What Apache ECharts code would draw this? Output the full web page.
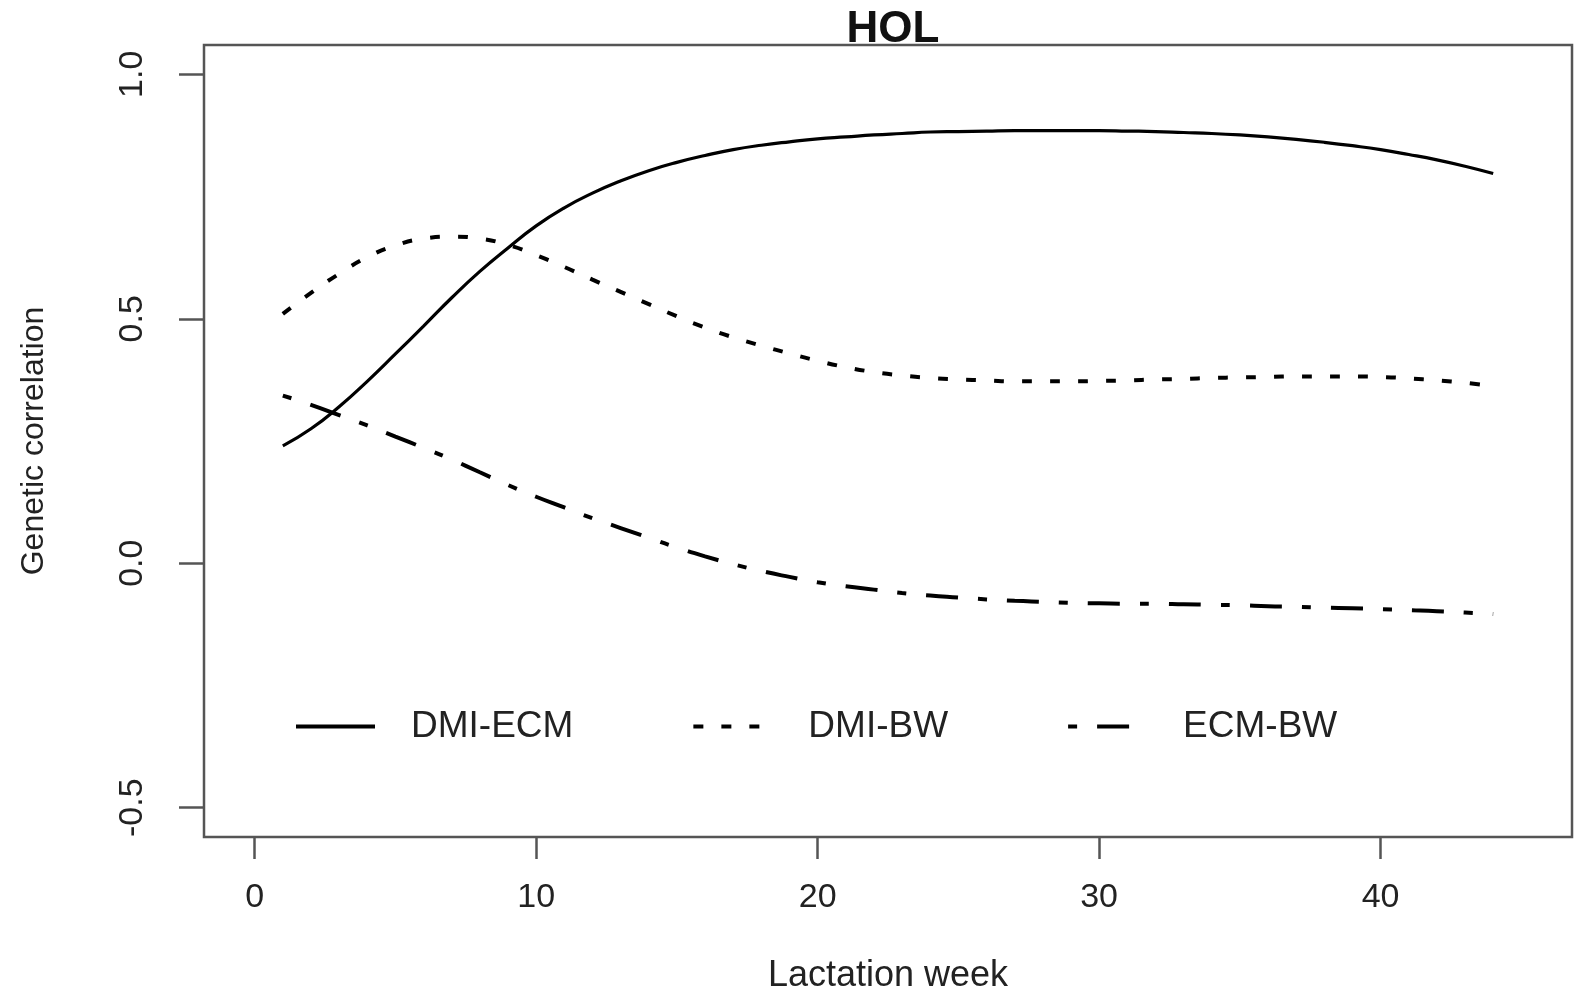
<!DOCTYPE html>
<html lang="en">
  <head>
    <meta charset="UTF-8" />
    <title>HOL</title>
    <style>
      html, body { margin: 0; padding: 0; background: #fff; }
      #main { width: 1575px; height: 993px; }
    </style>
  </head>
  <body>
    <div id="main"></div>
    <script src="https://cdn.jsdelivr.net/npm/echarts@6/dist/echarts.min.js"></script>
    <script>
      // lactation weeks 1..44
      var weeks = [1, 2, 3, 4, 5, 6, 7, 8, 9, 10, 11, 12, 13, 14, 15, 16, 17, 18, 19, 20, 21, 22,
        23, 24, 25, 26, 27, 28, 29, 30, 31, 32, 33, 34, 35, 36, 37, 38, 39, 40, 41, 42, 43, 44];

      var dmiEcm = [0.240, 0.275, 0.320, 0.372, 0.428, 0.485, 0.543, 0.597, 0.645, 0.690, 0.727,
        0.757, 0.782, 0.803, 0.820, 0.834, 0.846, 0.855, 0.862, 0.868, 0.872, 0.876, 0.879,
        0.882, 0.883, 0.884, 0.885, 0.885, 0.885, 0.885, 0.884, 0.883, 0.881, 0.879, 0.876,
        0.872, 0.867, 0.861, 0.854, 0.846, 0.836, 0.825, 0.812, 0.797];

      var dmiBw = [0.510, 0.553, 0.592, 0.626, 0.650, 0.664, 0.668, 0.664, 0.651, 0.630, 0.606,
        0.580, 0.555, 0.530, 0.505, 0.482, 0.462, 0.445, 0.429, 0.414, 0.401, 0.391, 0.384,
        0.379, 0.376, 0.374, 0.372, 0.372, 0.372, 0.373, 0.374, 0.376, 0.377, 0.379, 0.380,
        0.381, 0.382, 0.382, 0.382, 0.381, 0.378, 0.374, 0.369, 0.362];

      var ecmBw = [0.343, 0.324, 0.303, 0.282, 0.259, 0.236, 0.212, 0.186, 0.160, 0.136, 0.114,
        0.092, 0.072, 0.052, 0.032, 0.014, -0.002, -0.016, -0.028, -0.039, -0.047, -0.054,
        -0.061, -0.066, -0.070, -0.074, -0.077, -0.079, -0.081, -0.082, -0.083, -0.083, -0.084,
        -0.085, -0.086, -0.088, -0.089, -0.091, -0.092, -0.094, -0.096, -0.098, -0.101, -0.104];

      var xTicks = [0, 10, 20, 30, 40];
      var yTicks = [-0.5, 0, 0.5, 1];

      function pairs(vals) {
        return weeks.map(function (w, i) { return [w, vals[i]]; });
      }

      var font = "'Liberation Sans', Arial, sans-serif";
      var textCol = "#222";
      var boxCol = "#555";

      var myChart = echarts.init(document.getElementById("main"));

      var option = {
        backgroundColor: "#fff",
        animation: false,
        title: {
          text: "HOL",
          left: 888,
          top: 3,
          textAlign: "center",
          textStyle: { fontFamily: font, fontSize: 44, fontWeight: "bold", color: "#111" },
        },
        legend: {
          left: 289,
          top: 703,
          itemWidth: 79,
          itemHeight: 20,
          itemGap: 118,
          itemStyle: { opacity: 0 },
          lineStyle: { width: 4 },
          textStyle: { fontFamily: font, fontSize: 37, color: textCol, padding: [0, 0, 0, 31] },
          data: ["DMI-ECM", "DMI-BW", "ECM-BW"],
        },
        grid: {
          left: 204,
          right: 3,
          top: 45,
          bottom: 156,
          outerBoundsMode: "none",
          containLabel: false,
          show: true,
          borderColor: boxCol,
          borderWidth: 2.5,
        },
        xAxis: {
          type: "value",
          min: -1.8,
          max: 46.8,
          name: "Lactation week",
          nameLocation: "middle",
          nameGap: 121,
          nameTextStyle: { fontFamily: font, fontSize: 36, color: textCol },
          axisLine: { show: false, onZero: false },
          splitLine: { show: false },
          axisTick: {
            show: true,
            length: 22,
            customValues: xTicks,
            lineStyle: { color: boxCol, width: 2.5 },
          },
          axisLabel: {
            customValues: xTicks,
            margin: 44,
            fontFamily: font,
            fontSize: 34,
            color: textCol,
          },
        },
        yAxis: {
          type: "value",
          min: -0.56,
          max: 1.06,
          name: "Genetic correlation",
          nameLocation: "middle",
          nameGap: 154,
          nameTextStyle: { fontFamily: font, fontSize: 32, color: textCol },
          axisLine: { show: false, onZero: false },
          splitLine: { show: false },
          axisTick: {
            show: true,
            length: 25,
            customValues: yTicks,
            lineStyle: { color: boxCol, width: 2.5 },
          },
          axisLabel: {
            customValues: yTicks,
            rotate: 90,
            margin: 54,
            fontFamily: font,
            fontSize: 34,
            color: textCol,
            formatter: function (v) { return v.toFixed(1); },
          },
        },
        series: [
          {
            name: "DMI-ECM",
            type: "line",
            data: pairs(dmiEcm),
            smooth: true,
            symbol: "none",
            lineStyle: { color: "#000", width: 3.2, type: "solid" },
            itemStyle: { color: "#000" },
          },
          {
            name: "DMI-BW",
            type: "line",
            data: pairs(dmiBw),
            smooth: true,
            symbol: "none",
            lineStyle: { color: "#000", width: 4, type: [10, 18] },
            itemStyle: { color: "#000" },
          },
          {
            name: "ECM-BW",
            type: "line",
            data: pairs(ecmBw),
            smooth: true,
            symbol: "none",
            lineStyle: { color: "#000", width: 4, type: [9, 20, 32, 20] },
            itemStyle: { color: "#000" },
          },
        ],
      };

      myChart.setOption(option);
    </script>
  </body>
</html>
